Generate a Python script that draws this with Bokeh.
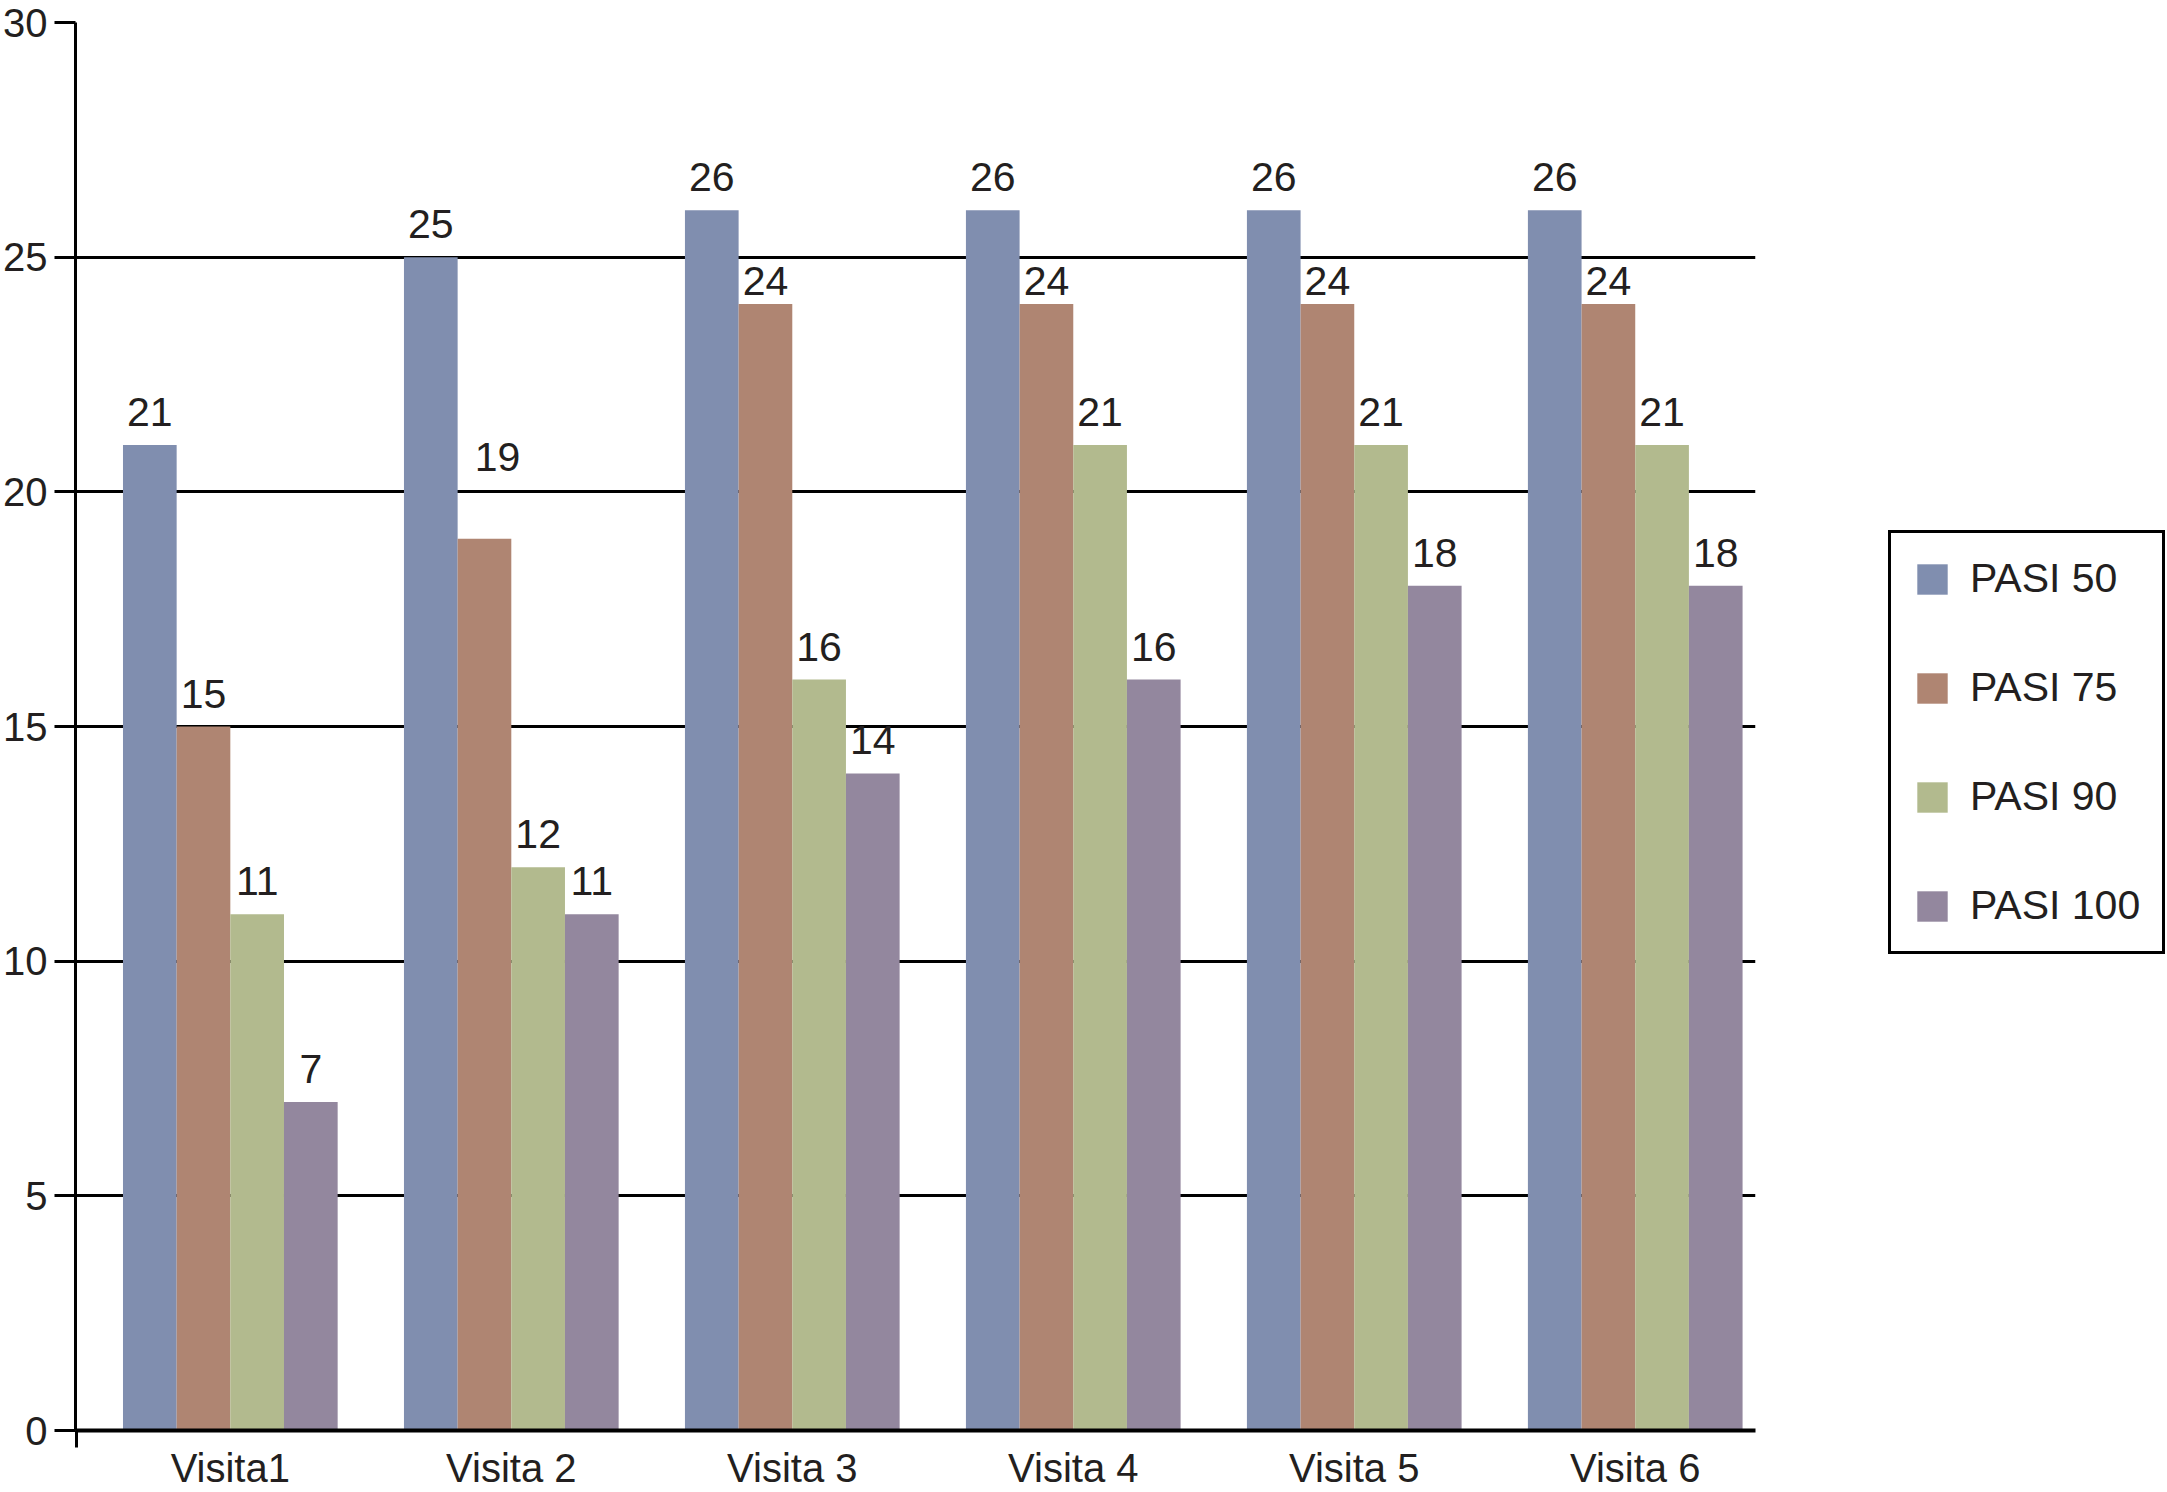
from bokeh.plotting import figure
from bokeh.layouts import row
from bokeh.models import ColumnDataSource, FixedTicker, Legend, LegendItem, Range1d
from bokeh.transform import dodge
from bokeh.core.properties import value
from bokeh.embed import file_html
from bokeh.resources import INLINE

# ---- data ----
visits = ["Visita1", "Visita 2", "Visita 3", "Visita 4", "Visita 5", "Visita 6"]
series_names = ["PASI 50", "PASI 75", "PASI 90", "PASI 100"]
pasi50 = [21, 25, 26, 26, 26, 26]
pasi75 = [15, 19, 24, 24, 24, 24]
pasi90 = [11, 12, 16, 21, 21, 21]
pasi100 = [7, 11, 14, 16, 18, 18]
y_ticks = [0, 5, 10, 15, 20, 25, 30]

# ---- style ----
colors = ["#808EAF", "#AF8572", "#B2BA8E", "#93879E"]
FONT = "Liberation Sans"
TXT = "#231F20"
W, H = 2167, 1492
W_MAIN = 1780
BAR_W = 0.191
X0, X1 = 0.449, 6.428
LABEL_DY = -33
# per-label (series, visit) -> (dx, dy) pixel offsets
label_shift = {(1, 1): (13, -82), (1, 2): (0, -23), (1, 3): (0, -23),
               (1, 4): (0, -23), (1, 5): (0, -23)}

series = [pasi50, pasi75, pasi90, pasi100]
xpos = [i + 1 for i in range(len(visits))]

p = figure(width=W_MAIN, height=H, x_range=Range1d(X0, X1), y_range=Range1d(0, 30),
           output_backend="svg", toolbar_location=None,
           min_border_left=0, min_border_top=22, min_border_right=W_MAIN - 1755,
           min_border_bottom=0)
p.outline_line_color = None
p.background_fill_color = "white"
p.border_fill_color = "white"

for si, (name, vals, col) in enumerate(zip(series_names, series, colors)):
    off = (si - 1.5) * BAR_W
    dxs, dys = [], []
    for vi in range(len(vals)):
        dx, dy = label_shift.get((si, vi), (0, LABEL_DY))
        dxs.append(dx)
        dys.append(dy)
    src = ColumnDataSource(dict(x=xpos, v=vals, lab=[str(v) for v in vals],
                                dx=dxs, dy=dys))
    p.vbar(x=dodge("x", off, range=p.x_range), top="v", width=BAR_W,
           source=src, fill_color=col, line_color=None)
    p.text(x=dodge("x", off, range=p.x_range), y="v", text="lab", source=src,
           x_offset="dx", y_offset="dy", text_align="center",
           text_baseline="middle", text_font=value(FONT),
           text_font_size="41px", text_color=TXT)

# y axis
yax = p.yaxis[0]
yax.ticker = FixedTicker(ticks=y_ticks)
yax.major_tick_out = 21
yax.major_tick_in = 0
yax.minor_tick_out = 0
yax.minor_tick_in = 0
yax.major_tick_line_width = 3
yax.major_tick_line_color = "black"
yax.axis_line_width = 3
yax.axis_line_color = "black"
yax.major_label_standoff = 7
yax.major_label_text_font = FONT
yax.major_label_text_font_size = "40px"
yax.major_label_text_color = TXT

# x axis
xax = p.xaxis[0]
xax.ticker = FixedTicker(ticks=xpos, minor_ticks=[X0 + 0.002])
xax.major_label_overrides = {x: lab for x, lab in zip(xpos, visits)}
xax.major_tick_out = 0
xax.major_tick_in = 0
xax.minor_tick_out = 17
xax.minor_tick_in = 0
xax.minor_tick_line_width = 3
xax.minor_tick_line_color = "black"
xax.axis_line_width = 4
xax.axis_line_color = "black"
xax.major_label_standoff = -2
xax.major_label_text_font = FONT
xax.major_label_text_font_size = "40px"
xax.major_label_text_color = TXT

# grid
p.xgrid.visible = False
p.ygrid.ticker = FixedTicker(ticks=y_ticks)
p.ygrid.grid_line_color = "black"
p.ygrid.grid_line_width = 3

# ---- legend panel (separate figure to the right) ----
pl = figure(width=W - W_MAIN, height=H, x_range=Range1d(0, 1), y_range=Range1d(0, 1),
            x_axis_type=None, y_axis_type=None, output_backend="svg",
            toolbar_location=None, min_border=0)
pl.outline_line_color = None
pl.xgrid.visible = False
pl.ygrid.visible = False
pl.background_fill_color = "white"
pl.border_fill_color = "white"
items = []
for name, col in zip(series_names, colors):
    # off-screen, zero-height proxy bar so that the legend has a swatch
    rr = pl.vbar(x=[-10], top=[0], width=0.1, fill_color=col, line_color=None)
    items.append(LegendItem(label=name, renderers=[rr]))

legend = Legend(items=items, location=(1888 - W_MAIN, 476))
legend.border_line_color = "black"
legend.border_line_alpha = 1
legend.border_line_width = 3
legend.background_fill_color = "white"
legend.background_fill_alpha = 1
legend.padding = 22
legend.spacing = 62
legend.margin = 0
legend.glyph_width = 38
legend.glyph_height = 38
legend.label_standoff = 19
legend.label_height = 46
legend.label_text_font = FONT
legend.label_text_font_size = "41px"
legend.label_text_color = TXT
pl.add_layout(legend, "center")

layout = row(p, pl)
open("out.html", "w").write(file_html(layout, INLINE))
